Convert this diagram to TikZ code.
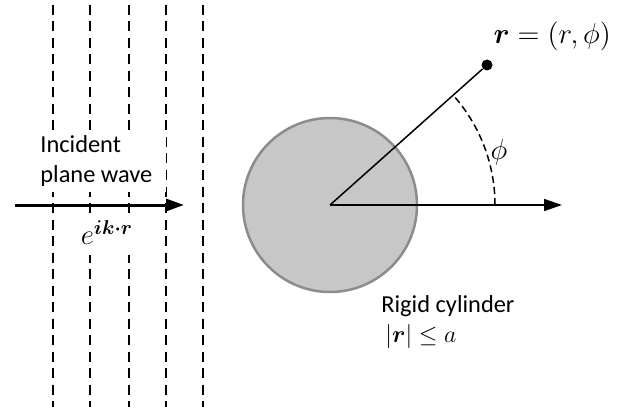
\documentclass[tikz,border=0pt]{standalone}
\usepackage{amsmath,amssymb}
\usepackage{fontspec}
\setmainfont{Carlito}
\usetikzlibrary{arrows.meta,positioning}

\begin{document}
\begin{tikzpicture}[x=0.5pt,y=0.5pt,>={Triangle[length=9pt,width=6pt]},
    font=\fontsize{12.2}{15}\selectfont,
    wavefront/.style={line width=1.1pt,dash pattern=on 5pt off 3.25pt},
    thinline/.style={line width=0.75pt},
    bigmath/.style={font=\fontsize{13.4}{16}\selectfont}]
  \useasboundingbox (0,0) rectangle (624,407);
  % incident wavefronts
  \foreach \x in {53,90,129,166,203}
    \draw[wavefront] (\x,402) -- (\x,0);
  \node[fill=white,align=left,anchor=west,inner xsep=7pt,inner ysep=3pt] (inc) at (26,246)
    {Incident\\plane wave};
  \node[fill=white,anchor=north,inner xsep=3pt,inner ysep=0pt,text depth=5pt,
        font=\fontsize{14.5}{17}\selectfont] (wave) at (107,187)
    {$e^{\boldsymbol{ik\cdot r}}$};
  \coordinate (wl) at (15,202);
  \coordinate (wr) at (184,202);
  \draw[->,line width=1.5pt] (wl) -- (wr);
  % cylinder and polar coordinates
  \node[circle,draw=black!45,fill=black!22,line width=1.25pt,
        minimum size=87pt,inner sep=0pt] (cyl) at (330,202) {};
  \node[circle,fill=black,minimum size=5.5pt,inner sep=0pt] (pt) at (487,342) {};
  \coordinate (xend) at (562,202);
  \draw[thinline] (cyl.center) -- (pt);
  \draw[thinline,->] (cyl.center) -- (xend);
  \draw[thinline,dash pattern=on 3.5pt off 2pt] ([xshift=82.5pt]cyl.center)
    arc[start angle=0,end angle=41.7,radius=82.5pt];
  \node[bigmath] (phil) at (499,255) {$\phi$};
  \node[bigmath,above right=5pt and 1pt of pt,inner sep=0pt] (rlab) {$\boldsymbol{r}=(r,\phi)$};
  \node[align=left,anchor=north west,inner sep=0pt] (rigid) at (381,112)
    {Rigid cylinder\\\hspace{2pt}$|\boldsymbol{r}|\le a$};
\end{tikzpicture}
\end{document}
